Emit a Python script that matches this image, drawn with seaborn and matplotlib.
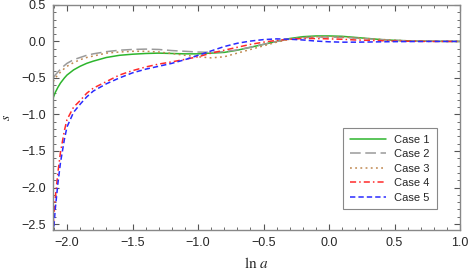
import numpy as np
import pandas as pd
import matplotlib
matplotlib.use("Agg")
import matplotlib.pyplot as plt
from matplotlib.ticker import MultipleLocator
import seaborn as sns

# valores
ln_a = [-2.105, -2.09, -2.07, -2.05, -2.02, -2.0, -1.95, -1.9, -1.85, -1.8,
        -1.7, -1.6, -1.5, -1.4, -1.3, -1.2, -1.1, -1.0, -0.9, -0.8,
        -0.7, -0.6, -0.5, -0.4, -0.3, -0.2, -0.1, 0.0, 0.1, 0.2,
        0.3, 0.4, 0.5, 0.6, 0.7, 0.8, 0.9, 1.0]

case1 = [-0.77, -0.70, -0.63, -0.57, -0.50, -0.46, -0.39, -0.34, -0.30, -0.27,
         -0.22, -0.19, -0.175, -0.165, -0.16, -0.165, -0.17, -0.17, -0.16, -0.15,
         -0.12, -0.08, -0.04, 0.0, 0.04, 0.065, 0.075, 0.075, 0.07, 0.055,
         0.04, 0.025, 0.015, 0.008, 0.004, 0.002, 0.001, 0.0]
case2 = [-0.50, -0.46, -0.42, -0.38, -0.33, -0.30, -0.25, -0.22, -0.19, -0.17,
         -0.14, -0.12, -0.11, -0.105, -0.11, -0.125, -0.135, -0.145, -0.15, -0.14,
         -0.115, -0.08, -0.04, 0.0, 0.03, 0.05, 0.06, 0.06, 0.055, 0.045,
         0.035, 0.025, 0.015, 0.008, 0.004, 0.002, 0.001, 0.0]
case3 = [-0.55, -0.50, -0.46, -0.42, -0.37, -0.34, -0.29, -0.25, -0.22, -0.20,
         -0.16, -0.145, -0.135, -0.135, -0.145, -0.165, -0.19, -0.21, -0.225, -0.21,
         -0.16, -0.11, -0.06, -0.01, 0.03, 0.055, 0.065, 0.065, 0.06, 0.05,
         0.038, 0.027, 0.017, 0.009, 0.005, 0.002, 0.001, 0.0]
case4 = [-2.52, -2.15, -1.80, -1.52, -1.22, -1.07, -0.90, -0.81, -0.71, -0.64,
         -0.55, -0.46, -0.40, -0.35, -0.31, -0.28, -0.245, -0.21, -0.16, -0.12,
         -0.08, -0.04, -0.01, 0.015, 0.03, 0.04, 0.04, 0.035, 0.03, 0.02,
         0.015, 0.01, 0.005, 0.003, 0.001, 0.0, 0.0, 0.0]
case5 = [-2.65, -2.30, -1.95, -1.66, -1.34, -1.17, -0.97, -0.86, -0.76, -0.68,
         -0.58, -0.50, -0.43, -0.38, -0.34, -0.30, -0.25, -0.19, -0.13, -0.07,
         -0.025, 0.005, 0.025, 0.035, 0.03, 0.02, 0.005, -0.005, -0.01, -0.01,
         -0.008, -0.005, -0.003, -0.002, -0.001, 0.0, 0.0, 0.0]

labels = ["Case 1", "Case 2", "Case 3", "Case 4", "Case 5"]
series = [case1, case2, case3, case4, case5]

df = pd.concat(
    [pd.DataFrame({"ln_a": ln_a, "s": vals, "case": lab}) for lab, vals in zip(labels, series)],
    ignore_index=True,
)

cores = {"Case 1": "#2db52d", "Case 2": "#9a9a9a", "Case 3": "#c08850",
         "Case 4": "#ff2a2a", "Case 5": "#2a2aff"}
tracos = {"Case 1": "", "Case 2": (7, 3), "Case 3": (1.2, 2.2),
          "Case 4": (4, 2, 1, 2), "Case 5": (3.5, 2)}

sns.set_theme(style="ticks")
plt.rcParams["font.family"] = ["Liberation Sans", "DejaVu Sans"]
plt.rcParams["mathtext.fontset"] = "stix"

fig = plt.figure(figsize=(4.69, 2.73), dpi=100)
ax = fig.add_axes([0.113, 0.158, 0.868, 0.824])

sns.lineplot(data=df, x="ln_a", y="s", hue="case", style="case",
             palette=cores, dashes=tracos, linewidth=1.1, ax=ax, sort=False)

ax.set_xlim(-2.107, 1.0)
ax.set_ylim(-2.58, 0.5)
ax.xaxis.set_major_locator(MultipleLocator(0.5))
ax.xaxis.set_minor_locator(MultipleLocator(0.1))
ax.yaxis.set_major_locator(MultipleLocator(0.5))
ax.yaxis.set_minor_locator(MultipleLocator(0.1))
ax.tick_params(which="both", direction="in", top=True, right=True,
               color="#555555", labelsize=9, pad=5)
ax.tick_params(which="major", length=4, width=0.8)
ax.tick_params(which="minor", length=2, width=0.6)
for sp in ax.spines.values():
    sp.set_color("#888888")
    sp.set_linewidth(1.0)

ax.set_xlabel(r"$\ln\,a$", fontsize=11, labelpad=5)
ax.set_ylabel(r"$s$", fontsize=10, labelpad=6)

leg = ax.legend(loc="lower right", bbox_to_anchor=(0.956, 0.067), fontsize=8,
                fancybox=False, edgecolor="#888888", framealpha=1,
                handlelength=3.2, borderpad=0.6, labelspacing=0.4)
leg.get_frame().set_linewidth(0.8)

fig.savefig("out.png", dpi=100)
